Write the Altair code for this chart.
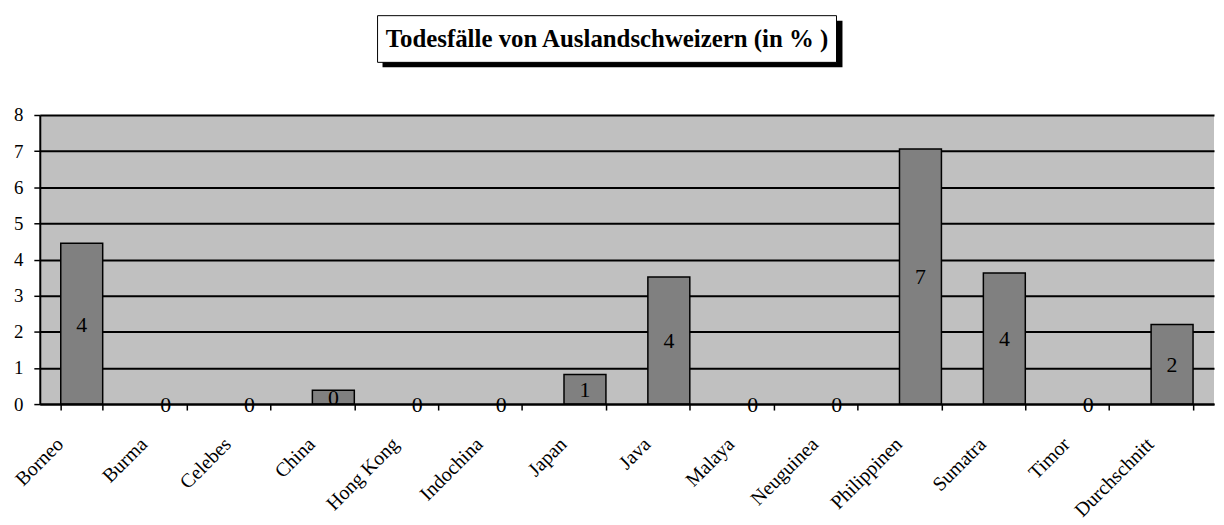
import altair as alt
import pandas as pd

categories = ["Borneo", "Burma", "Celebes", "China", "Hong Kong", "Indochina", "Japan",
              "Java", "Malaya", "Neuguinea", "Philippinen", "Sumatra", "Timor", "Durchschnitt"]
values = [4.45, 0.0, 0.0, 0.38, 0.0, 0.0, 0.82, 3.52, 0.0, 0.0, 7.06, 3.63, 0.0, 2.2]
title_text = "Todesfälle von Auslandschweizern (in % )"

df = pd.DataFrame({"land": categories, "wert": values})

SERIF = "Liberation Serif"

x_scale = alt.Scale(paddingInner=0.5, paddingOuter=0.25)
x_axis = alt.Axis(
    tickBand="extent", labelAngle=-45, labelAlign="right", labelBaseline="middle",
    labelFont=SERIF, labelFontSize=20, labelColor="black", labelPadding=31,
    labelOffset=-22, tickColor="black", tickSize=6, tickWidth=1.5,
    domainColor="black", domainWidth=2, grid=False, labelOverlap=False, zindex=1,
)
y_scale = alt.Scale(domain=[0, 8], nice=False)
y_axis = alt.Axis(
    values=[0, 1, 2, 3, 4, 5, 6, 7, 8], labelFont=SERIF, labelFontSize=19,
    labelColor="black", labelPadding=11, tickColor="black", tickSize=6,
    tickWidth=1.5, domainColor="black", domainWidth=2, gridColor="black",
    gridWidth=2, gridOpacity=1, labelOverlap=False,
)

base = alt.Chart(df)

bars = base.mark_bar(color="#808080", stroke="black", strokeWidth=1.5).encode(
    x=alt.X("land:N", sort=categories, title=None, scale=x_scale, axis=x_axis),
    y=alt.Y("wert:Q", title=None, scale=y_scale, axis=y_axis),
    strokeOpacity=alt.condition("datum.wert == 0", alt.value(0), alt.value(1)),
)

labels = base.transform_calculate(mitte="datum.wert / 2").mark_text(
    font=SERIF, fontSize=22, color="black", baseline="middle", align="center", dy=1
).encode(
    x=alt.X("land:N", sort=categories, title=None, scale=x_scale, axis=x_axis),
    y=alt.Y("mitte:Q", title=None, scale=y_scale, axis=y_axis),
    text=alt.Text("wert:Q", format=".0f"),
)

title_df = pd.DataFrame({"t": [title_text]})
tbase = alt.Chart(title_df)
shadow = tbase.mark_rect(color="black").encode(
    x=alt.value(345), x2=alt.value(808), y=alt.value(-95), y2=alt.value(-48)
)
box = tbase.mark_rect(fill="white", stroke="black", strokeWidth=1).encode(
    x=alt.value(340), x2=alt.value(802), y=alt.value(-100), y2=alt.value(-53)
)
title = tbase.mark_text(
    font=SERIF, fontSize=25, fontWeight="bold", color="black", align="center", baseline="middle"
).encode(x=alt.value(571), y=alt.value(-76), text="t:N")

chart = alt.layer(bars, labels, shadow, box, title).properties(
    width=1182, height=291,
    autosize=alt.AutoSizeParams(type="none"),
    padding={"left": 32, "top": 106, "right": 2, "bottom": 120},
    background="white",
).configure_view(fill="#C0C0C0", stroke=None)

chart.save("out.html", embed_options={"renderer": "svg", "actions": False})
